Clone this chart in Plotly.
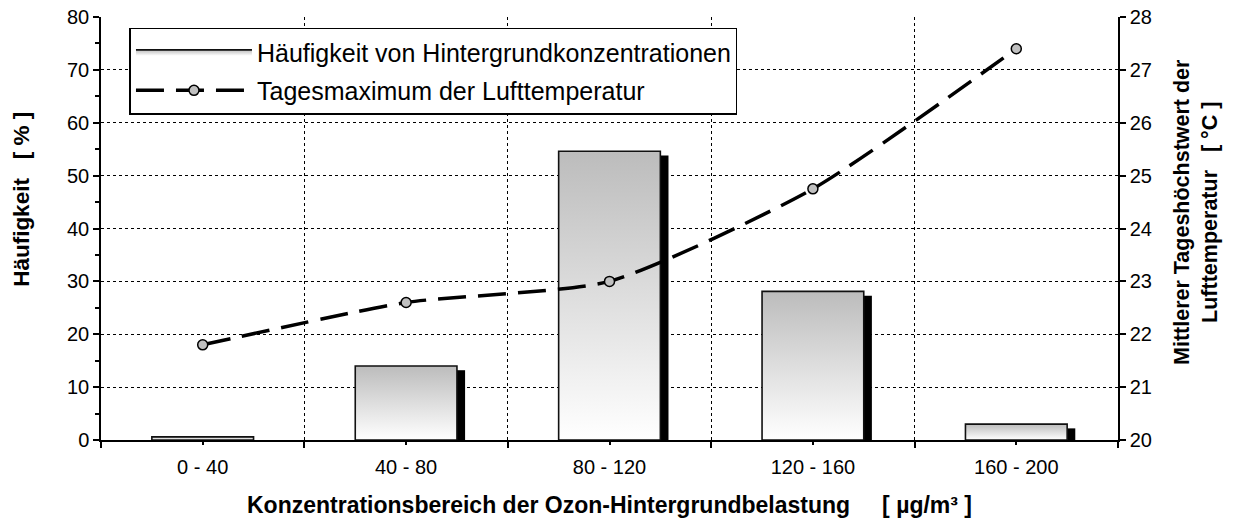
import plotly.graph_objects as go

categories = ["0 - 40", "40 - 80", "80 - 120", "120 - 160", "160 - 200"]
frequency = [0.6, 14.0, 54.6, 28.1, 3.0]
temperature = [21.8, 22.6, 23.0, 24.75, 27.4]

FONT = "Liberation Sans, Arial, sans-serif"
centers = [i + 0.5 for i in range(len(categories))]
half = 0.25
shadow_w = 0.04
shadow_drop = 0.8

fig = go.Figure()

# shadow bars
fig.add_trace(go.Bar(
    x=[c + half + shadow_w / 2 for c in centers],
    y=[max(v - shadow_drop, 0) for v in frequency],
    width=shadow_w, marker=dict(color="black", line=dict(width=0)),
    showlegend=False, hoverinfo="skip"))

# gradient bars
for i, (c, v) in enumerate(zip(centers, frequency)):
    fig.add_trace(go.Scatter(
        x=[c - half, c - half, c + half, c + half, c - half],
        y=[0, v, v, 0, 0],
        mode="lines", fill="toself",
        fillgradient=dict(type="vertical",
                          colorscale=[[0, "#ffffff"], [1, "#bcbcbc"]]),
        line=dict(color="#111111", width=1.6),
        name="Häufigkeit von Hintergrundkonzentrationen",
        legendgroup="bars", showlegend=(i == 0)))

fig.add_trace(go.Scatter(
    x=centers, y=temperature, yaxis="y2",
    mode="lines+markers",
    line=dict(color="black", width=3.5, dash="28px,12px", shape="spline", smoothing=0.6),
    marker=dict(size=10, color="#c0c0c0", line=dict(color="black", width=1.5)),
    name="Tagesmaximum der Lufttemperatur"))

fig.update_layout(
    width=1242, height=524,
    margin=dict(l=101, r=124, t=17, b=84),
    paper_bgcolor="white", plot_bgcolor="white",
    font=dict(family=FONT, size=20, color="black"),
    showlegend=True,
    legend=dict(x=0.028, y=0.975, xanchor="left", yanchor="top",
                bgcolor="white", bordercolor="black", borderwidth=1.5,
                font=dict(size=25), itemwidth=116, tracegroupgap=3),
    xaxis=dict(range=[0, 5], tickmode="array", tickvals=centers, ticktext=categories,
               ticks="outside", ticklen=3, tickwidth=1.5, tickcolor="black",
               ticklabelstandoff=5,
               showgrid=False, zeroline=False, automargin=False,
               showline=True, linecolor="black", linewidth=1.5,
               minor=dict(tickmode="linear", tick0=0, dtick=1, ticks="outside",
                          ticklen=6, tickwidth=1.5, tickcolor="black",
                          showgrid=True, gridcolor="black", griddash="dot", gridwidth=1),
               title=dict(text="<b>Konzentrationsbereich der Ozon-Hintergrundbelastung     [ µg/m³ ]</b>",
                          font=dict(size=23), standoff=20)),
    yaxis=dict(range=[0, 80], dtick=10, ticks="outside", ticklen=6, tickwidth=1.5,
               tickcolor="black", showgrid=True, gridcolor="black", griddash="dot",
               gridwidth=1, zeroline=False, showline=True, linecolor="black", linewidth=1.5,
               automargin=False,
               minor=dict(dtick=5, ticks="outside", ticklen=4, tickwidth=1.5, tickcolor="black")),
    yaxis2=dict(range=[20, 28], dtick=1, overlaying="y", side="right",
                ticks="outside", ticklen=6, tickwidth=1.5, tickcolor="black",
                showgrid=False, zeroline=False, showline=True, linecolor="black", linewidth=1.5,
                automargin=False),
    annotations=[
        dict(text="<b>Häufigkeit   [ % ]</b>", textangle=-90, showarrow=False,
             xref="paper", yref="paper", x=-0.0777, y=0.57,
             xanchor="center", yanchor="middle", font=dict(size=22.5)),
        dict(text="<b>Mittlerer Tageshöchstwert der<br>Lufttemperatur   [ °C ]</b>",
             textangle=-90, showarrow=False, xref="paper", yref="paper",
             x=1.0767, y=0.539, xanchor="center", yanchor="middle",
             font=dict(size=21.5)),
    ],
)

fig.write_html("out.html", config={"displayModeBar": False},
               post_script="document.body.style.margin='0';")
